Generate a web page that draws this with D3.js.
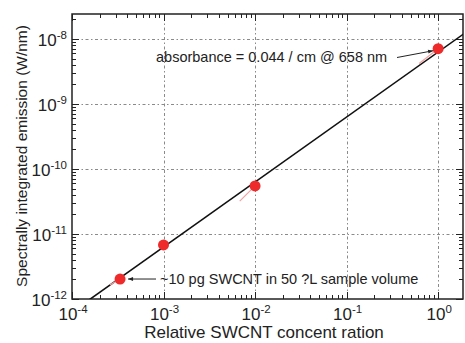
<!DOCTYPE html>
<html><head><meta charset="utf-8">
<script src="https://cdn.jsdelivr.net/npm/d3@7"></script>
<style>body{margin:0;background:#fff}svg{display:block}text{font-family:"Liberation Sans",Arial,sans-serif;fill:#222}</style>
</head><body><svg id="c" width="465" height="343"></svg>
<script>
// Data
const concentration = [3.35e-4, 1e-3, 1e-2, 1.0];
const emission = [2.03e-12, 6.8e-12, 5.5e-11, 7.1e-9];
const errTipX = [2.6e-4, null, 6.8e-3, 6.2e-1];
const errTipY = [1.65e-12, null, 3.2e-11, 4.2e-9];
const fitX = [1e-4, 1.9];
const fitSlope = 1.0;
const fitIntercept = -8.2; // log10 y = slope*log10 x + intercept
const xTickExps = [-4, -3, -2, -1, 0];
const yTickExps = [-12, -11, -10, -9, -8];
const xDomain = [1e-4, 1.87];
const yDomain = [1e-12, 2.43e-8];
const annTop = "absorbance = 0.044 / cm @ 658 nm";
const annBottom = "~10 pg SWCNT in 50 ?L sample volume";
const xTitle = "Relative SWCNT concent ration";
const yTitle = "Spectrally integrated emission (W/nm)";

const L = 72, R = 463, T = 14, B = 299;
const svg = d3.select("#c");
const x = d3.scaleLog().domain(xDomain).range([L, R]);
const y = d3.scaleLog().domain(yDomain).range([B, T]);

svg.append("defs").append("clipPath").attr("id","clip")
  .append("rect").attr("x",L).attr("y",T).attr("width",R-L).attr("height",B-T);
const m = svg.append("defs").append("marker").attr("id","arr").attr("viewBox","0 0 10 10")
  .attr("refX",10).attr("refY",5).attr("markerWidth",7).attr("markerHeight",5).attr("orient","auto")
  .attr("markerUnits","userSpaceOnUse");
m.append("path").attr("d","M0,1 L10,5 L0,9 z").attr("fill","#222");

// grid
const grid = svg.append("g").attr("stroke","#8a8a8a").attr("stroke-width",1).attr("stroke-dasharray","1.5,2.5,3,2.5");
xTickExps.slice(1).forEach(e => {
  const px = Math.round(x(Math.pow(10,e)))+0.5;
  grid.append("line").attr("x1",px).attr("x2",px).attr("y1",T).attr("y2",B);
});
yTickExps.slice(1).forEach(e => {
  const py = Math.round(y(Math.pow(10,e)))+0.5;
  grid.append("line").attr("x1",L).attr("x2",R).attr("y1",py).attr("y2",py);
});

// ticks
const tk = svg.append("g").attr("stroke","#222").attr("stroke-width",1);
const xt = [];
for (let e=-4; e<=0; e++) for (let k=1;k<=9;k++){ const v=k*Math.pow(10,e); if(v>=xDomain[0]&&v<=xDomain[1]) xt.push([v,k===1]); }
xt.forEach(([v,maj])=>{
  const px = Math.round(x(v))+0.5, len = maj?7:4;
  tk.append("line").attr("x1",px).attr("x2",px).attr("y1",B).attr("y2",B-len);
  tk.append("line").attr("x1",px).attr("x2",px).attr("y1",T).attr("y2",T+len);
});
const yt = [];
for (let e=-12; e<=-8; e++) for (let k=1;k<=9;k++){ const v=k*Math.pow(10,e); if(v>=yDomain[0]&&v<=yDomain[1]) yt.push([v,k===1]); }
yt.forEach(([v,maj])=>{
  const py = Math.round(y(v))+0.5, len = maj?7:4;
  tk.append("line").attr("x1",L).attr("x2",L+len).attr("y1",py).attr("y2",py);
  tk.append("line").attr("x1",R).attr("x2",R-len).attr("y1",py).attr("y2",py);
});

// frame
svg.append("rect").attr("x",L).attr("y",T).attr("width",R-L).attr("height",B-T)
  .attr("fill","none").attr("stroke","#222").attr("stroke-width",1.5);

// fit line
const plot = svg.append("g").attr("clip-path","url(#clip)");
const fitLine = d3.line().x(d=>x(d)).y(d=>y(Math.pow(10, fitSlope*Math.log10(d)+fitIntercept)));
plot.append("path").attr("d", fitLine(fitX)).attr("stroke","#111").attr("stroke-width",1.6).attr("fill","none");

// pink error traces
concentration.forEach((c,i)=>{
  if (errTipX[i]==null) return;
  plot.append("line").attr("x1",x(c)).attr("y1",y(emission[i])).attr("x2",x(errTipX[i])).attr("y2",y(errTipY[i]))
    .attr("stroke","#f4a0a0").attr("stroke-width",1.2);
});
// points
plot.selectAll("circle.p").data(concentration).join("circle")
  .attr("cx",d=>x(d)).attr("cy",(d,i)=>y(emission[i])).attr("r",5.5).attr("fill","#ee2a2a");

// tick labels
function powLabel(g, e, px, py, anchor){
  const t = g.append("text").attr("x",px).attr("y",py).attr("text-anchor",anchor).attr("font-size",17);
  t.append("tspan").text("10");
  t.append("tspan").attr("dy",-7).attr("font-size",11.5).text(String(e));
  return t;
}
const lab = svg.append("g");
xTickExps.forEach(e=> powLabel(lab, e, x(Math.pow(10,e))+1, 320, "middle"));
yTickExps.forEach(e=> powLabel(lab, e, 67, y(Math.pow(10,e))+7, "end"));

// titles
svg.append("text").attr("x",264).attr("y",338).attr("text-anchor","middle").attr("font-size",17).text(xTitle);
svg.append("text").attr("transform","translate(27,156) rotate(-90)").attr("text-anchor","middle").attr("font-size",15.5).text(yTitle);

// annotations
svg.append("text").attr("x",156).attr("y",62).attr("font-size",14.5).text(annTop);
svg.append("line").attr("x1",397).attr("y1",57.5).attr("x2",x(concentration[3])-5).attr("y2",y(emission[3])+2)
  .attr("stroke","#222").attr("stroke-width",1).attr("marker-end","url(#arr)");
svg.append("text").attr("x",160).attr("y",284).attr("font-size",14.5).text(annBottom);
svg.append("line").attr("x1",156).attr("y1",y(emission[0])).attr("x2",x(concentration[0])+8).attr("y2",y(emission[0]))
  .attr("stroke","#222").attr("stroke-width",1).attr("marker-end","url(#arr)");
</script></body></html>
